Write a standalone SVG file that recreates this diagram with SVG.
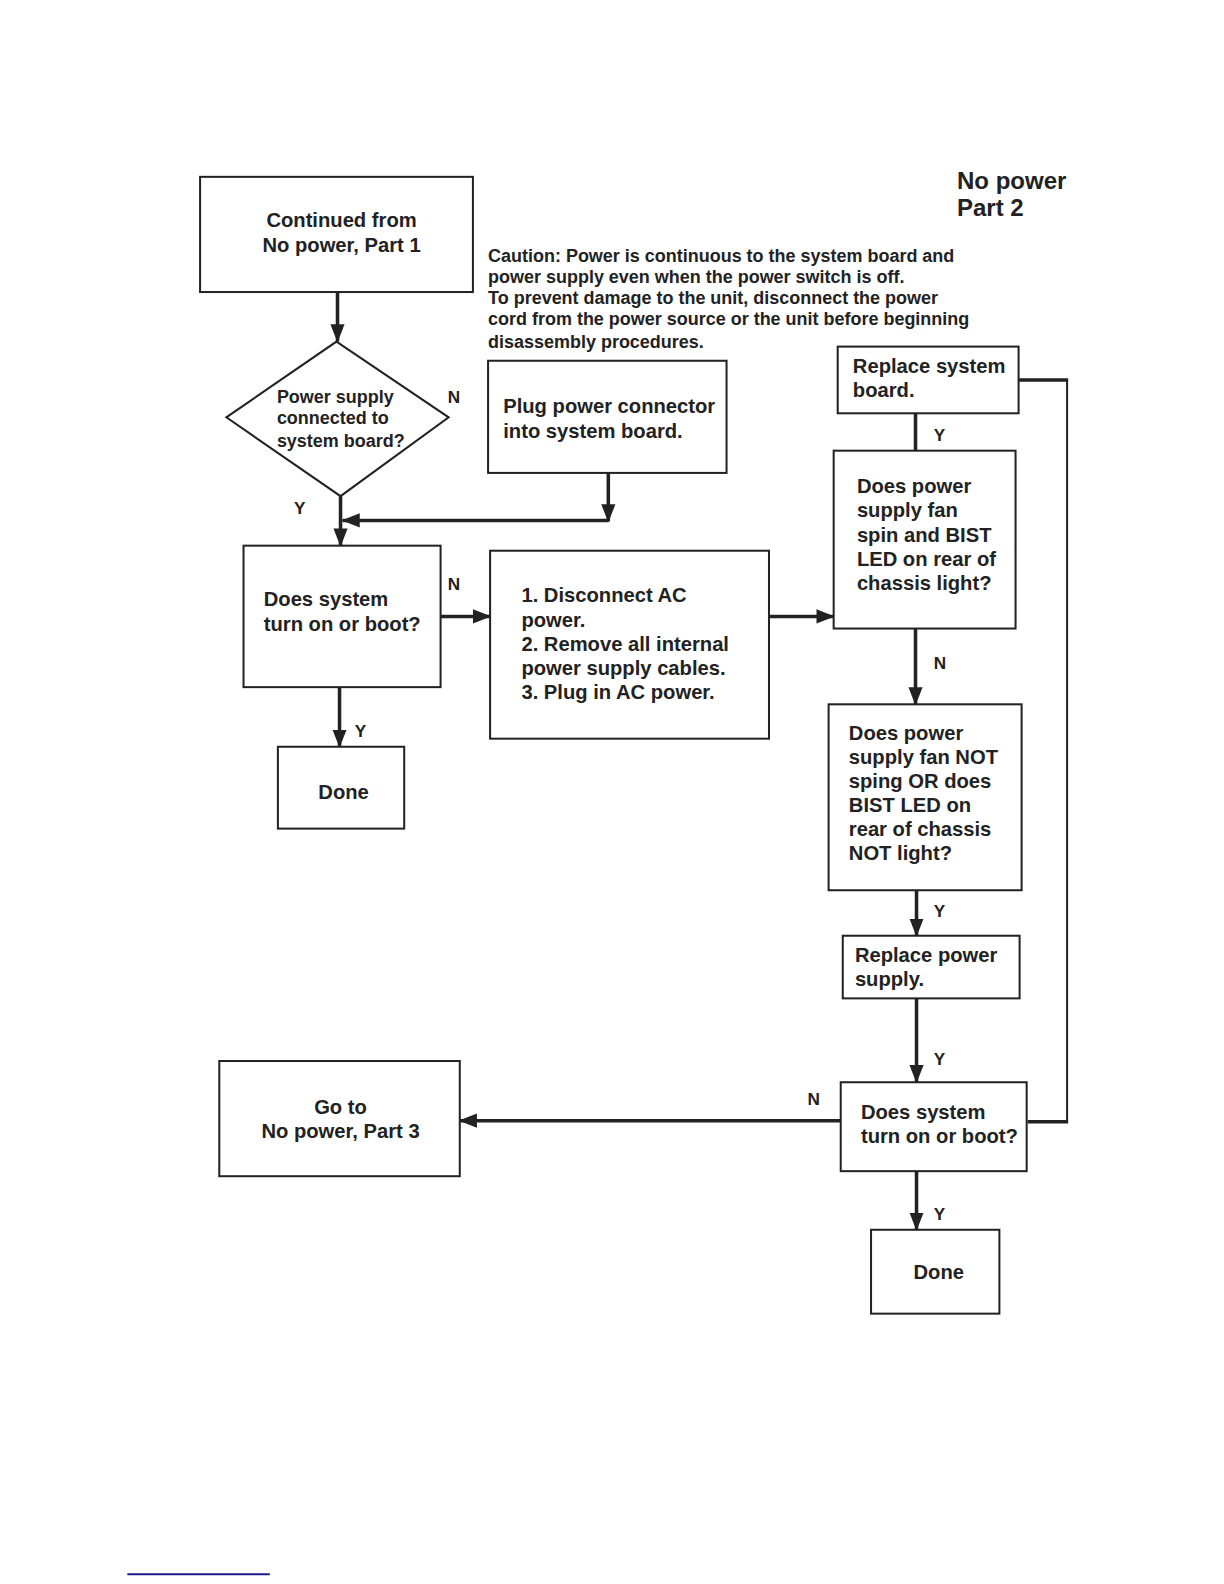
<svg xmlns="http://www.w3.org/2000/svg" width="1224" height="1584" viewBox="0 0 1224 1584">
<style>
  .box { fill: #fff; stroke: #222; stroke-width: 2; }
  .t { font-family: "Liberation Sans", Arial, sans-serif; font-weight: bold; fill: #222; font-size: 20px; }
  .ts { font-size: 17.8px; }
  .tc { font-size: 17.8px; }
  .tl { font-size: 23.8px; }
  .lbl { font-family: "Liberation Sans", Arial, sans-serif; font-weight: bold; fill: #222; font-size: 17px; }
  .c { fill: none; stroke: #222; stroke-width: 3.5; }
  .cthin { fill: none; stroke: #222; stroke-width: 2; }
</style>
<defs>
  <marker id="ah" markerUnits="userSpaceOnUse" markerWidth="18" markerHeight="18" viewBox="0 0 18 18" refX="17" refY="9" orient="auto">
    <path d="M0,2 L18,9 L0,16 Z" fill="#222"/>
  </marker>
</defs>
<rect width="1224" height="1584" fill="#fff"/>

<g id="page" transform="scale(1.0105)">
<g id="title">
  <text class="t tl" x="947" y="187">No power</text>
  <text class="t tl" x="947" y="214">Part 2</text>
</g>

<g id="caution">
  <text class="t tc" x="483" y="259">Caution: Power is continuous to the system board and</text>
  <text class="t tc" x="483" y="280">power supply even when the power switch is off.</text>
  <text class="t tc" x="483" y="301">To prevent damage to the unit, disconnect the power</text>
  <text class="t tc" x="483" y="322">cord from the power source or the unit before beginning</text>
  <text class="t tc" x="483" y="344">disassembly procedures.</text>
</g>

<g id="connectors">
  <line class="c" x1="334" y1="289" x2="334" y2="338" marker-end="url(#ah)"/>
  <line class="c" x1="337" y1="491" x2="337" y2="540" marker-end="url(#ah)"/>
  <line class="c" x1="602" y1="468" x2="602" y2="516" marker-end="url(#ah)"/>
  <line class="c" x1="602" y1="515" x2="339" y2="515" marker-end="url(#ah)"/>
  <line class="c" x1="436" y1="610" x2="485" y2="610" marker-end="url(#ah)"/>
  <line class="c" x1="336" y1="680" x2="336" y2="739" marker-end="url(#ah)"/>
  <line class="c" x1="761" y1="610" x2="825" y2="610" marker-end="url(#ah)"/>
  <line class="c" x1="906" y1="409" x2="906" y2="446"/>
  <line class="c" x1="906" y1="622" x2="906" y2="697" marker-end="url(#ah)"/>
  <line class="c" x1="907" y1="881" x2="907" y2="926" marker-end="url(#ah)"/>
  <line class="c" x1="907" y1="988" x2="907" y2="1071" marker-end="url(#ah)"/>
  <line class="c" x1="832" y1="1109" x2="455" y2="1109" marker-end="url(#ah)"/>
  <line class="c" x1="907" y1="1159" x2="907" y2="1217" marker-end="url(#ah)"/>
  <line class="c" x1="1008" y1="376" x2="1057" y2="376"/>
  <line class="cthin" x1="1056" y1="375" x2="1056" y2="1111"/>
  <line class="c" x1="1017" y1="1110" x2="1057" y2="1110"/>
  <text class="lbl" x="443" y="399">N</text>
  <text class="lbl" x="291" y="509">Y</text>
  <text class="lbl" x="443" y="584">N</text>
  <text class="lbl" x="351" y="729">Y</text>
  <text class="lbl" x="924" y="436">Y</text>
  <text class="lbl" x="924" y="662">N</text>
  <text class="lbl" x="924" y="907">Y</text>
  <text class="lbl" x="924" y="1054">Y</text>
  <text class="lbl" x="799" y="1094">N</text>
  <text class="lbl" x="924" y="1207">Y</text>
</g>

<g id="n-start">
  <rect class="box" x="198" y="175" width="270" height="114"/>
  <text class="t" x="338" y="225" text-anchor="middle" font-size="19.5">Continued from</text>
  <text class="t" x="338" y="249" text-anchor="middle" font-size="19.5">No power, Part 1</text>
</g>

<g id="n-diamond">
  <polygon class="box" points="333,338 444,413 337,491 224,413"/>
  <text class="t ts" x="274" y="399">Power supply</text>
  <text class="t ts" x="274" y="420">connected to</text>
  <text class="t ts" x="274" y="442">system board?</text>
</g>

<g id="n-plug">
  <rect class="box" x="483" y="357" width="236" height="111"/>
  <text class="t" x="498" y="409">Plug power connector</text>
  <text class="t" x="498" y="433">into system board.</text>
</g>

<g id="n-boot1">
  <rect class="box" x="241" y="540" width="195" height="140"/>
  <text class="t" x="261" y="600">Does system</text>
  <text class="t" x="261" y="624">turn on or boot?</text>
</g>

<g id="n-done1">
  <rect class="box" x="275" y="739" width="125" height="81"/>
  <text class="t" x="340" y="791" text-anchor="middle">Done</text>
</g>

<g id="n-steps">
  <rect class="box" x="485" y="545" width="276" height="186"/>
  <text class="t" x="516" y="596">1. Disconnect AC</text>
  <text class="t" x="516" y="620">power.</text>
  <text class="t" x="516" y="644">2. Remove all internal</text>
  <text class="t" x="516" y="668">power supply cables.</text>
  <text class="t" x="516" y="692">3. Plug in AC power.</text>
</g>

<g id="n-replace-board">
  <rect class="box" x="829" y="343" width="179" height="66"/>
  <text class="t" x="844" y="369">Replace system</text>
  <text class="t" x="844" y="393">board.</text>
</g>

<g id="n-fan-spin">
  <rect class="box" x="825" y="446" width="180" height="176"/>
  <text class="t" x="848" y="488">Does power</text>
  <text class="t" x="848" y="512">supply fan</text>
  <text class="t" x="848" y="536">spin and BIST</text>
  <text class="t" x="848" y="560">LED on rear of</text>
  <text class="t" x="848" y="584">chassis light?</text>
</g>

<g id="n-fan-not">
  <rect class="box" x="820" y="697" width="191" height="184"/>
  <text class="t" x="840" y="732">Does power</text>
  <text class="t" x="840" y="756">supply fan NOT</text>
  <text class="t" x="840" y="780">sping OR does</text>
  <text class="t" x="840" y="804">BIST LED on</text>
  <text class="t" x="840" y="827">rear of chassis</text>
  <text class="t" x="840" y="851">NOT light?</text>
</g>

<g id="n-replace-ps">
  <rect class="box" x="834" y="926" width="175" height="62"/>
  <text class="t" x="846" y="952">Replace power</text>
  <text class="t" x="846" y="976">supply.</text>
</g>

<g id="n-boot2">
  <rect class="box" x="832" y="1071" width="184" height="88"/>
  <text class="t" x="852" y="1107">Does system</text>
  <text class="t" x="852" y="1131">turn on or boot?</text>
</g>

<g id="n-part3">
  <rect class="box" x="217" y="1050" width="238" height="114"/>
  <text class="t" x="337" y="1102" text-anchor="middle" font-size="19.5">Go to</text>
  <text class="t" x="337" y="1126" text-anchor="middle" font-size="19.5">No power, Part 3</text>
</g>

<g id="n-done2">
  <rect class="box" x="862" y="1217" width="127" height="83"/>
  <text class="t" x="929" y="1266" text-anchor="middle">Done</text>
</g>

<line x1="126" y1="1558" x2="267" y2="1558" stroke="#1a1a8c" stroke-width="2"/>
</g>
</svg>
